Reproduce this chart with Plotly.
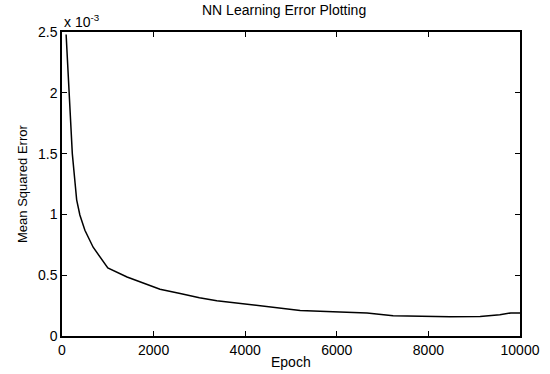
import plotly.graph_objects as go

epochs = [90, 150, 225, 285, 320, 390, 500, 680, 870, 1000, 1420, 1770, 2140, 2580, 3000, 3380, 4060, 4600, 5200, 5920, 6660, 7230, 7880, 8470, 9130, 9560, 9800, 10000]
mse = [2.48e-3, 2.0e-3, 1.5e-3, 1.26e-3, 1.12e-3, 0.995e-3, 0.87e-3, 0.73e-3, 0.625e-3, 0.56e-3,
       0.485e-3, 0.435e-3, 0.385e-3, 0.35e-3, 0.315e-3, 0.29e-3, 0.26e-3, 0.235e-3, 0.21e-3, 0.20e-3,
       0.19e-3, 0.167e-3, 0.16e-3, 0.158e-3, 0.16e-3, 0.175e-3, 0.19e-3, 0.19e-3]

y_ticks = [0, 0.5e-3, 1e-3, 1.5e-3, 2e-3, 2.5e-3]
y_tick_labels = ["0", "0.5", "1", "1.5", "2", "2.5"]
x_ticks = [0, 2000, 4000, 6000, 8000, 10000]

font = "Liberation Sans, Arial, sans-serif"

fig = go.Figure()
fig.add_trace(go.Scatter(x=epochs, y=mse, mode="lines",
                         line=dict(color="black", width=1.5), showlegend=False))

axis_common = dict(showgrid=False, zeroline=False, showline=True, linecolor="black",
                   linewidth=1.5, mirror="ticks", ticks="inside", ticklen=5,
                   tickcolor="black", automargin=False,
                   tickfont=dict(family=font, size=14, color="black"))

fig.update_xaxes(range=[0, 10000], tickvals=x_ticks, ticktext=[str(v) for v in x_ticks],
                 **axis_common)
fig.update_yaxes(range=[0, 2.5e-3], tickvals=y_ticks, ticktext=y_tick_labels,
                 **axis_common)

fig.update_layout(
    width=550, height=374,
    margin=dict(l=62, r=30, t=32, b=38),
    paper_bgcolor="white", plot_bgcolor="white",
    annotations=[
        dict(text="x 10<sup>-3</sup>", xref="paper", yref="paper", x=0, y=1.0,
             xanchor="left", yanchor="bottom", showarrow=False,
             font=dict(family=font, size=14, color="black")),
        dict(text="NN Learning Error Plotting", xref="paper", yref="paper", x=0.485, y=1.0,
             xanchor="center", yanchor="bottom", yshift=12, showarrow=False,
             font=dict(family=font, size=14, color="black")),
        dict(text="Epoch", xref="paper", yref="paper", x=0.5, y=0,
             xanchor="center", yanchor="top", yshift=-16, showarrow=False,
             font=dict(family=font, size=14, color="black")),
        dict(text="Mean Squared Error", xref="paper", yref="paper", x=0, y=0.5,
             xanchor="center", yanchor="middle", xshift=-40, textangle=-90, showarrow=False,
             font=dict(family=font, size=13, color="black")),
    ],
)

fig.write_html("out.html", config={"displayModeBar": False},
               post_script="document.body.style.margin='0';")
